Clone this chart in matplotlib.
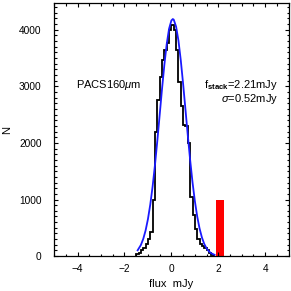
import numpy as np
import matplotlib
matplotlib.use("Agg")
import matplotlib.pyplot as plt
from matplotlib.ticker import MultipleLocator

plt.rcParams['font.family'] = ['Liberation Sans', 'DejaVu Sans']
plt.rcParams['mathtext.fontset'] = 'custom'
plt.rcParams['mathtext.rm'] = 'Liberation Sans'
plt.rcParams['mathtext.it'] = 'Liberation Sans:italic'
plt.rcParams['mathtext.bf'] = 'Liberation Sans:bold'

# histogram of stacked fluxes (bin edges, counts)
bin_edges = [-1.5, -1.4, -1.3, -1.2, -1.1, -1.0, -0.9, -0.8, -0.7, -0.6, -0.5,
             -0.4, -0.3, -0.2, -0.1, 0.0, 0.1, 0.2, 0.3, 0.4, 0.5, 0.6, 0.7,
             0.8, 0.9, 1.0, 1.1, 1.2, 1.3, 1.4, 1.5, 1.6, 1.7, 1.8]
counts = [30, 60, 100, 150, 220, 310, 430, 1000, 2200, 2760, 3170, 3470, 3650,
          3770, 4000, 4080, 4000, 3650, 3080, 2650, 2320, 2300, 2000, 1050, 720,
          480, 310, 210, 180, 135, 100, 60, 25]

# gaussian fit curve
fit_x = [-1.44, -1.3, -1.2, -1.1, -1.0, -0.9, -0.8, -0.7, -0.6, -0.5, -0.4,
         -0.3, -0.2, -0.1, 0.0, 0.06, 0.1, 0.2, 0.3, 0.4, 0.5, 0.6, 0.7, 0.8,
         0.9, 1.0, 1.1, 1.2, 1.3, 1.4, 1.5, 1.6, 1.7, 1.84]
fit_y = [102, 197, 304, 453, 654, 913, 1234, 1613, 2040, 2495, 2954, 3382,
         3747, 4017, 4165, 4190, 4179, 4056, 3810, 3461, 3042, 2588, 2129,
         1695, 1305, 973, 701, 489, 330, 215, 136, 83, 49, 22]

# stacked flux marker
stack_left = 1.92
stack_width = 0.32
stack_height = 1000

fig = plt.figure(figsize=(2.91, 2.91), dpi=100)
ax = fig.add_axes([0.186, 0.12, 0.806, 0.869])

ax.stairs(counts, bin_edges, color='black', linewidth=1.3, baseline=0)
ax.plot(fit_x, fit_y, color='#1a1aff', linewidth=1.3)
ax.bar([stack_left], [stack_height], width=stack_width, align='edge',
       color='#ff0000', edgecolor='none')

ax.set_xlim(-5, 5)
ax.set_ylim(0, 4470)
ax.xaxis.set_major_locator(MultipleLocator(2))
ax.xaxis.set_minor_locator(MultipleLocator(0.5))
ax.yaxis.set_major_locator(MultipleLocator(1000))
ax.yaxis.set_minor_locator(MultipleLocator(100))
ax.tick_params(which='both', direction='in', top=True, right=True,
               width=0.8, labelsize=7.3, colors='black')
ax.tick_params(which='major', length=3.2)
ax.tick_params(which='minor', length=1.8)
ax.tick_params(axis='x', which='major', pad=6)
ax.tick_params(axis='y', which='major', pad=9)
for s in ax.spines.values():
    s.set_linewidth(0.9)

ax.set_xlabel('flux  mJy', fontsize=8, labelpad=3)
ax.set_ylabel('N', fontsize=8, labelpad=5)

ax.text(-4.05, 3030, r'PACS160$\mu$m', fontsize=8, ha='left', va='center')
ax.text(4.54, 3030, r'f$_{\bf stack}$=2.21mJy', fontsize=8, ha='right', va='center')
ax.text(4.54, 2776, r'$\sigma$=0.52mJy', fontsize=8, ha='right', va='center')

fig.savefig('out.png', dpi=100)
